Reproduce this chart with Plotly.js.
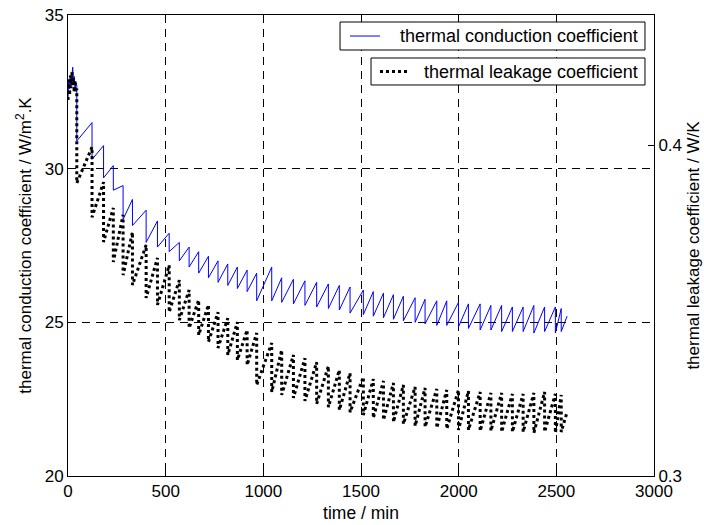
<!DOCTYPE html>
<html>
<head>
<meta charset="utf-8">
<script src="https://cdn.plot.ly/plotly-3.0.1.min.js"></script>
<style>html,body{margin:0;padding:0;background:#fff;}#chart{width:704px;height:525px;}</style>
</head>
<body>
<div id="chart"></div>
<script>
// ---- data ----
// initial noisy segment (time / min)
const startT     = [0, 4, 8, 12, 16, 20, 24, 28, 32, 36, 40];
const startBlue  = [32.3, 32.9, 32.6, 33.0, 32.7, 33.1, 33.3, 32.8, 33.0, 32.6, 32.8];
const startBlack = [0.4136, 0.4196, 0.4151, 0.4211, 0.4172, 0.4221, 0.4181, 0.4202, 0.4160, 0.4196, 0.4166];

// times of the sharp drops of each saw-tooth cycle (min)
const dropT = [45, 123, 182, 232, 282, 330, 400, 458, 518, 570, 620, 669, 719, 768, 818, 867, 917, 966,
  1043, 1094, 1154, 1213, 1273, 1333, 1389, 1444, 1512, 1563, 1615, 1666, 1717, 1777, 1828, 1888, 1939,
  1999, 2050, 2110, 2165, 2220, 2275, 2330, 2385, 2440, 2495, 2525];

// thermal conduction coefficient (W/m2.K): value just before / just after each drop
const bluePeak = [32.7, 31.5, 30.75, 30.1, 29.45, 29.0, 28.65, 28.3, 27.9, 27.6, 27.45, 27.3, 27.15, 27.0, 26.9, 26.8, 26.7, 26.6,
  26.8, 26.45, 26.4, 26.35, 26.3, 26.25, 26.2, 26.15, 26.05, 26.0, 25.95, 25.9, 25.85, 25.8, 25.75, 25.7, 25.7,
  25.65, 25.6, 25.6, 25.55, 25.55, 25.5, 25.5, 25.55, 25.5, 25.5, 25.45];
const blueTrough = [30.9, 30.3, 29.7, 29.3, 28.35, 28.15, 27.6, 27.45, 27.3, 27.0, 26.8, 26.6, 26.45, 26.3, 26.2, 26.1, 26.0, 25.7,
  25.7, 25.65, 25.6, 25.55, 25.5, 25.45, 25.4, 25.3, 25.25, 25.2, 25.15, 25.1, 25.05, 25.0, 24.95, 24.9, 24.9,
  24.85, 24.8, 24.75, 24.75, 24.7, 24.7, 24.7, 24.65, 24.7, 24.65, 24.7];

// thermal leakage coefficient (W/K): value just before / just after each drop
const blackPeak = [0.4166, 0.3994, 0.3888, 0.3810, 0.3789, 0.3737, 0.3698, 0.3659, 0.3637, 0.3592, 0.3562, 0.3532, 0.3517, 0.3495, 0.3477, 0.3465, 0.3441, 0.3432,
  0.3402, 0.3381, 0.3366, 0.3356, 0.3344, 0.3332, 0.3320, 0.3311, 0.3299, 0.3293, 0.3287, 0.3281, 0.3275, 0.3269, 0.3266, 0.3263, 0.3260,
  0.3260, 0.3257, 0.3254, 0.3251, 0.3251, 0.3248, 0.3248, 0.3251, 0.3254, 0.3248, 0.3245];
const blackTrough = [0.3885, 0.3782, 0.3707, 0.3647, 0.3607, 0.3577, 0.3538, 0.3517, 0.3495, 0.3471, 0.3447, 0.3426, 0.3405, 0.3387, 0.3366, 0.3350, 0.3335, 0.3275,
  0.3254, 0.3245, 0.3236, 0.3227, 0.3218, 0.3208, 0.3199, 0.3193, 0.3184, 0.3175, 0.3169, 0.3163, 0.3157, 0.3151, 0.3148, 0.3145, 0.3142,
  0.3139, 0.3139, 0.3136, 0.3136, 0.3133, 0.3133, 0.3133, 0.3130, 0.3133, 0.3130, 0.3133];

const endT = 2555, blueEnd = 25.2, blackEnd = 0.3193;

const seriesNames = ['thermal conduction coefficient', 'thermal leakage coefficient'];
const xTicks = [0, 500, 1000, 1500, 2000, 2500, 3000];
const yTicks = [20, 25, 30, 35];
const y2Ticks = [0.3, 0.4];

// ---- build polylines from the read vertices ----
function build(startV, peak, trough, endV) {
  const x = startT.slice(), y = startV.slice();
  for (let i = 0; i < dropT.length; i++) {
    x.push(dropT[i]); y.push(peak[i]);
    x.push(dropT[i]); y.push(trough[i]);
  }
  x.push(endT); y.push(endV);
  return {x, y};
}
const b = build(startBlue, bluePeak, blueTrough, blueEnd);
const k = build(startBlack, blackPeak, blackTrough, blackEnd);

const FONT = 'Liberation Sans, Arial, Helvetica, sans-serif';
const blueLine = {color: '#0000ff', width: 1};
const blackLine = {color: '#000000', width: 3, dash: 'dot'};
const traces = [
  {x: b.x, y: b.y, type: 'scatter', mode: 'lines', name: seriesNames[0], line: blueLine, yaxis: 'y'},
  {x: k.x, y: k.y, type: 'scatter', mode: 'lines', name: seriesNames[1], line: blackLine, yaxis: 'y2'}
];

// ---- two boxed legends (as in the MATLAB figure) ----
const legendShapes = [
  {type: 'rect', xref: 'paper', yref: 'paper', x0: 0.4642, x1: 0.9846, y0: 0.9241, y1: 0.9848,
   line: {color: '#000', width: 1}, fillcolor: '#ffffff', layer: 'above'},
  {type: 'line', xref: 'paper', yref: 'paper', x0: 0.4812, x1: 0.5324, y0: 0.9544, y1: 0.9544,
   line: blueLine, layer: 'above'},
  {type: 'rect', xref: 'paper', yref: 'paper', x0: 0.5171, x1: 0.9846, y0: 0.8482, y1: 0.9067,
   line: {color: '#000', width: 1}, fillcolor: '#ffffff', layer: 'above'},
  {type: 'line', xref: 'paper', yref: 'paper', x0: 0.5324, x1: 0.5785, y0: 0.8774, y1: 0.8774,
   line: blackLine, layer: 'above'}
];
const legendTexts = [
  {xref: 'paper', yref: 'paper', x: 0.5631, y: 0.9544, xanchor: 'left', yanchor: 'middle',
   text: seriesNames[0], showarrow: false, font: {size: 18}},
  {xref: 'paper', yref: 'paper', x: 0.6041, y: 0.8774, xanchor: 'left', yanchor: 'middle',
   text: seriesNames[1], showarrow: false, font: {size: 18}}
];

const gridStyle = {showgrid: true, gridcolor: '#000000', gridwidth: 1, griddash: '8px,6px'};
const layout = {
  width: 704, height: 525,
  margin: {l: 68, r: 50, t: 15, b: 49},
  paper_bgcolor: '#ffffff', plot_bgcolor: '#ffffff',
  font: {family: FONT, size: 17, color: '#000000'},
  showlegend: false,
  xaxis: Object.assign({
    range: [0, 3000], tickvals: xTicks, ticktext: xTicks.map(String),
    ticks: 'inside', ticklen: 6, tickcolor: '#000', showline: true, linecolor: '#000', linewidth: 1,
    mirror: 'ticks', zeroline: false, tickfont: {size: 17},
    title: {text: 'time / min', font: {size: 17.5}, standoff: 6}
  }, gridStyle),
  yaxis: Object.assign({
    range: [20, 35], tickvals: yTicks, ticktext: yTicks.map(String),
    ticks: 'inside', ticklen: 6, tickcolor: '#000', showline: true, linecolor: '#000', linewidth: 1,
    zeroline: false,
    title: {text: 'thermal conduction coefficient / W/m<sup>2</sup>.K', font: {size: 17}, standoff: 8}
  }, gridStyle),
  yaxis2: {
    overlaying: 'y', side: 'right', range: [0.3, 0.4393], tickvals: y2Ticks, ticktext: ['0.3', '0.4'],
    ticks: 'inside', ticklen: 6, tickcolor: '#000', showline: true, linecolor: '#000', linewidth: 1,
    showgrid: false, zeroline: false,
    title: {text: 'thermal leakage coefficient / W/K', font: {size: 17}, standoff: 6}
  },
  shapes: legendShapes,
  annotations: legendTexts
};

Plotly.newPlot('chart', traces, layout, {displayModeBar: false, staticPlot: true});
</script>
</body>
</html>
